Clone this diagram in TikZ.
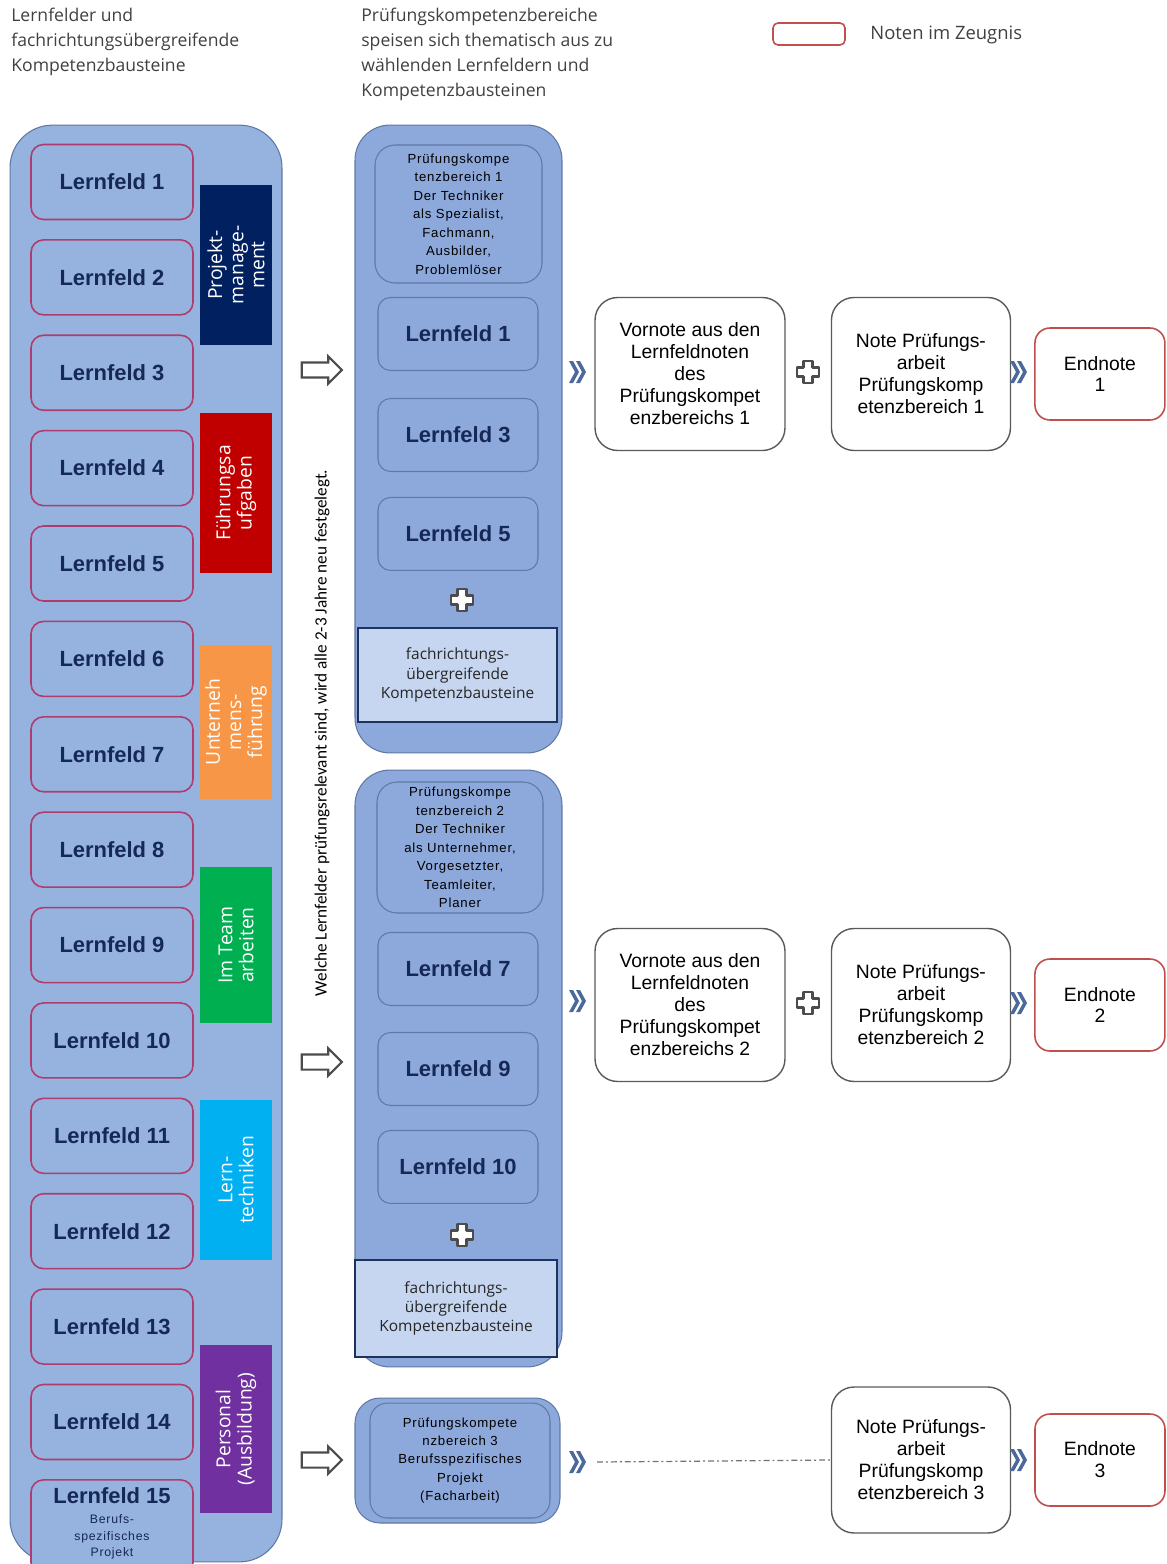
\documentclass[tikz,border=0pt]{standalone}
\usepackage{fontspec}
\setmainfont{Liberation Sans}
\newfontfamily\headfont{Open Sans}
\newfontfamily\notefont{Carlito}
\newfontfamily\spacedfont[LetterSpace=6]{Liberation Sans}
\usetikzlibrary{shapes.arrows}
\definecolor{leftfill}{RGB}{149,179,222}
\definecolor{midfill}{RGB}{141,169,219}
\definecolor{contborder}{RGB}{95,120,165}
\definecolor{lfborder}{RGB}{175,60,110}
\definecolor{lftext}{RGB}{22,40,85}
\definecolor{fachfill}{RGB}{198,214,240}
\definecolor{fachborder}{RGB}{30,50,95}
\definecolor{catnavy}{RGB}{0,32,96}
\definecolor{catred}{RGB}{192,0,0}
\definecolor{catorange}{RGB}{247,150,70}
\definecolor{catgreen}{RGB}{0,176,80}
\definecolor{catcyan}{RGB}{0,176,240}
\definecolor{catpurple}{RGB}{112,48,160}
\definecolor{chevblue}{RGB}{75,105,155}
\definecolor{endborder}{RGB}{192,80,77}
\definecolor{gradeborder}{RGB}{90,90,90}
\tikzstyle{headtext} = [align=left, inner sep=0pt, text=black!75, font=\headfont\fontsize{10}{14.2}\selectfont]
\tikzstyle{container} = [rectangle, rounded corners=0.85cm, draw=contborder, line width=0.6pt, fill=leftfill]
\tikzstyle{lernfeld} = [rectangle, rounded corners=0.25cm, minimum width=3.24cm, minimum height=1.5cm, text centered, draw=lfborder, line width=0.9pt, fill=leftfill, text=lftext, font=\fontsize{12.5}{14}\selectfont\bfseries]
\tikzstyle{pkbfeld} = [rectangle, rounded corners=0.25cm, minimum width=3.2cm, minimum height=1.46cm, text centered, draw=contborder, line width=0.6pt, fill=midfill, text=lftext, font=\fontsize{12.5}{14}\selectfont\bfseries]
\tikzstyle{pkbhead} = [rectangle, rounded corners=0.4cm, minimum width=3.34cm, align=center, draw=contborder, line width=0.6pt, fill=midfill, inner sep=1pt, text=black, font=\spacedfont\fontsize{7.5}{10.5}\selectfont]
\tikzstyle{category} = [rectangle, rotate=90, minimum width=3.2cm, minimum height=1.44cm, align=center, inner sep=1pt, text=white, font=\headfont\fontsize{11}{12}\selectfont]
\tikzstyle{baustein} = [rectangle, minimum width=3.98cm, minimum height=1.88cm, align=center, draw=fachborder, line width=1.6pt, fill=fachfill, text=black!85, font=\headfont\fontsize{8.8}{11}\selectfont]
\tikzstyle{grade} = [rectangle, rounded corners=0.45cm, minimum width=3.8cm, minimum height=3.06cm, align=center, draw=gradeborder, line width=0.8pt, fill=white, inner sep=1pt, font=\fontsize{11}{12.5}\selectfont]
\tikzstyle{endnote} = [rectangle, rounded corners=0.3cm, minimum width=2.6cm, minimum height=1.84cm, align=center, draw=endborder, line width=0.9pt, fill=white, font=\fontsize{11}{12.5}\selectfont]
\tikzstyle{hollow} = [single arrow, draw=black!70, line width=1.2pt, fill=white, minimum height=0.8cm, inner sep=0.13cm, single arrow head extend=0.12cm]
\tikzstyle{chevmark} = [fill=chevblue]
\tikzstyle{plusmark} = [draw=black!70, line width=1.3pt, line join=round, fill=white]
\tikzstyle{dashdot} = [draw=black!55, line width=0.7pt, dash pattern=on 3.4pt off 1.7pt on 1.1pt off 1.7pt]
\newcommand{\chevron}[1]{%
  \fill[chevmark, shift={(#1)}] (-9,-11) -- (-5,-11) -- (1,0) -- (-5,11) -- (-9,11) -- (-3,0) -- cycle
    (-2,-11) -- (2,-11) -- (8,0) -- (2,11) -- (-2,11) -- (4,0) -- cycle;}
\newcommand{\plusicon}[1]{%
  \draw[plusmark, shift={(#1)}] (-4.5,-11) -- (4.5,-11) -- (4.5,-4.5) -- (11,-4.5) -- (11,4.5) -- (4.5,4.5) -- (4.5,11) -- (-4.5,11) -- (-4.5,4.5) -- (-11,4.5) -- (-11,-4.5) -- (-4.5,-4.5) -- cycle;}

\begin{document}
\begin{tikzpicture}[x=0.02cm, y=-0.02cm, node distance=1.908cm]
\useasboundingbox (0,0) rectangle (1166,1564);

% Kopfzeilen und Legende
\node (head1) [headtext, anchor=north west] at (11,8) {Lernfelder und\\fachrichtungsübergreifende\\Kompetenzbausteine};
\node (head2) [headtext, anchor=north west] at (361,8) {Prüfungskompetenzbereiche\\speisen sich thematisch aus zu\\wählenden Lernfeldern und\\Kompetenzbausteinen};
\node (legend) [endnote, minimum width=1.44cm, minimum height=0.44cm, rounded corners=0.1cm] at (809,34) {};
\node (legendtext) [headtext, anchor=west, font=\headfont\fontsize{10.5}{12}\selectfont] at (870,35) {Noten im Zeugnis};

% linke Spalte
\node (left) [container, minimum width=5.44cm, minimum height=28.74cm] at (146,843.5) {};
\node (lf1) [lernfeld] at (112,182) {Lernfeld 1};
\node (lf2) [lernfeld, below of=lf1] {Lernfeld 2};
\node (lf3) [lernfeld, below of=lf2] {Lernfeld 3};
\node (lf4) [lernfeld, below of=lf3] {Lernfeld 4};
\node (lf5) [lernfeld, below of=lf4] {Lernfeld 5};
\node (lf6) [lernfeld, below of=lf5] {Lernfeld 6};
\node (lf7) [lernfeld, below of=lf6] {Lernfeld 7};
\node (lf8) [lernfeld, below of=lf7] {Lernfeld 8};
\node (lf9) [lernfeld, below of=lf8] {Lernfeld 9};
\node (lf10) [lernfeld, below of=lf9] {Lernfeld 10};
\node (lf11) [lernfeld, below of=lf10] {Lernfeld 11};
\node (lf12) [lernfeld, below of=lf11] {Lernfeld 12};
\node (lf13) [lernfeld, below of=lf12] {Lernfeld 13};
\node (lf14) [lernfeld, below of=lf13] {Lernfeld 14};
\node (lf15) [lernfeld, below of=lf14, yshift=-0.2cm, minimum height=1.9cm] {};
\node (lf15title) [text=lftext, font=\fontsize{12.5}{14}\selectfont\bfseries] at (112,1496) {Lernfeld 15};
\node (lf15sub) [align=center, text=lftext, font=\spacedfont\fontsize{7}{9.5}\selectfont] at (112,1537) {Berufs-\\spezifisches\\Projekt};

\node (projekt) [category, fill=catnavy] at (236,265) {Projekt-\\manage-\\ment};
\node (fuehrung) [category, fill=catred] at (236,493) {Führungsa\\ufgaben};
\node (unternehmen) [category, fill=catorange, minimum width=3.1cm] at (236,722) {Unterneh\\mens-\\führung};
\node (team) [category, fill=catgreen, minimum width=3.12cm] at (236,945) {Im Team\\arbeiten};
\node (lernen) [category, fill=catcyan] at (236,1180) {Lern-\\techniken};
\node (personal) [category, fill=catpurple, minimum width=3.36cm] at (236,1429) {Personal\\(Ausbildung)};

\node (hinweis) [rotate=90, font=\notefont\fontsize{9.8}{11}\selectfont] at (322,733) {Welche Lernfelder prüfungsrelevant sind, wird alle 2-3 Jahre neu festgelegt.};

\node (pfeil1) [hollow] at (318,370) {};
\node (pfeil2) [hollow] at (318,1062) {};
\node (pfeil3) [hollow] at (318,1460) {};

% Prüfungskompetenzbereich 1
\node (pkb1) [container, fill=midfill, rounded corners=0.7cm, minimum width=4.14cm, minimum height=12.56cm] at (458.5,439) {};
\node (kopf1) [pkbhead, minimum height=2.76cm] at (458.5,214) {Prüfungskompe\\tenzbereich 1\\Der Techniker\\als Spezialist,\\Fachmann,\\Ausbilder,\\Problemlöser};
\node (p1lf1) [pkbfeld] at (458,334) {Lernfeld 1};
\node (p1lf3) [pkbfeld, below of=p1lf1, node distance=2.02cm] {Lernfeld 3};
\node (p1lf5) [pkbfeld, below of=p1lf3, node distance=1.98cm] {Lernfeld 5};
\coordinate (plus1) at (462,600);
\plusicon{plus1}
\node (bau1) [baustein] at (457.5,675) {fachrichtungs-\\übergreifende\\Kompetenzbausteine};

% Prüfungskompetenzbereich 2
\node (pkb2) [container, fill=midfill, rounded corners=0.7cm, minimum width=4.14cm, minimum height=11.94cm] at (458.5,1068.5) {};
\node (kopf2) [pkbhead, minimum width=3.32cm, minimum height=2.62cm] at (460,847.5) {Prüfungskompe\\tenzbereich 2\\Der Techniker\\als Unternehmer,\\Vorgesetzter,\\Teamleiter,\\Planer};
\node (p2lf7) [pkbfeld] at (458,969) {Lernfeld 7};
\node (p2lf9) [pkbfeld, below of=p2lf7, node distance=2cm] {Lernfeld 9};
\node (p2lf10) [pkbfeld, below of=p2lf9, node distance=1.96cm] {Lernfeld 10};
\coordinate (plus2) at (462,1235);
\plusicon{plus2}
\node (bau2) [baustein, minimum width=4.04cm, minimum height=1.94cm] at (456,1308.5) {fachrichtungs-\\übergreifende\\Kompetenzbausteine};

% Prüfungskompetenzbereich 3
\node (pkb3) [container, fill=midfill, rounded corners=0.5cm, minimum width=4.1cm, minimum height=2.5cm] at (457.5,1460.5) {};
\node (kopf3) [pkbhead, rounded corners=0.35cm, minimum width=3.6cm, minimum height=2.3cm] at (460,1460.5) {Prüfungskompete\\nzbereich 3\\Berufsspezifisches\\Projekt\\(Facharbeit)};

% Noten
\node (vor1) [grade] at (690,374) {Vornote aus den\\Lernfeldnoten\\des\\Prüfungskompet\\enzbereichs 1};
\node (note1) [grade, minimum width=3.58cm, right of=vor1, node distance=4.62cm] {Note Prüfungs-\\arbeit\\Prüfungskomp\\etenzbereich 1};
\node (end1) [endnote, right of=note1, node distance=3.58cm] {Endnote\\1};

\node (vor2) [grade] at (690,1005) {Vornote aus den\\Lernfeldnoten\\des\\Prüfungskompet\\enzbereichs 2};
\node (note2) [grade, minimum width=3.58cm, right of=vor2, node distance=4.62cm] {Note Prüfungs-\\arbeit\\Prüfungskomp\\etenzbereich 2};
\node (end2) [endnote, right of=note2, node distance=3.58cm] {Endnote\\2};

\node (note3) [grade, minimum width=3.58cm, minimum height=2.92cm] at (921,1460) {Note Prüfungs-\\arbeit\\Prüfungskomp\\etenzbereich 3};
\node (end3) [endnote, right of=note3, node distance=3.58cm] {Endnote\\3};

\coordinate (chev1a) at (578,372);
\coordinate (chev1b) at (1019,372);
\coordinate (chev2a) at (578,1001);
\coordinate (chev2b) at (1019,1003);
\coordinate (chev3a) at (578,1462);
\coordinate (chev3b) at (1019,1460);
\chevron{chev1a}
\chevron{chev1b}
\chevron{chev2a}
\chevron{chev2b}
\chevron{chev3a}
\chevron{chev3b}
\coordinate (plus3) at (808,372);
\coordinate (plus4) at (808,1003);
\plusicon{plus3}
\plusicon{plus4}
\draw [dashdot] (chev3a) ++(19,0) -- (note3.west);
\end{tikzpicture}
\end{document}
